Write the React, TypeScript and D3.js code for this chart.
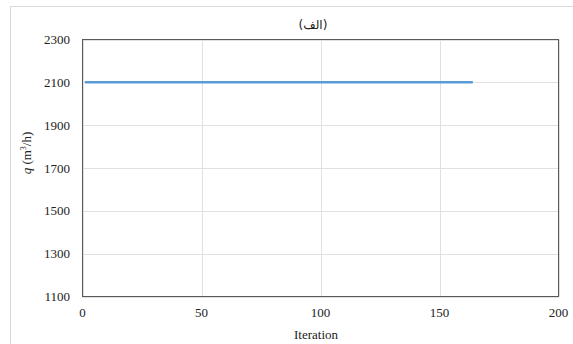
import React from "react";
import * as d3 from "d3";

// Flow rate per iteration (flat run from iteration 1 to 164)
const iterations: number[] = [1, 164];
const flowRate: number[] = [2100, 2100];

const xTicks: number[] = [0, 50, 100, 150, 200];
const yTicks: number[] = [1100, 1300, 1500, 1700, 1900, 2100, 2300];

const title = "(الف)";
const xTitle = "Iteration";

const W = 573;
const H = 344;
const plot = { left: 82.5, right: 558.5, top: 39.5, bottom: 296.5 };
const font = "'Times New Roman', 'Liberation Serif', 'DejaVu Serif', serif";

export default function App() {
  const x = d3.scaleLinear().domain([0, 200]).range([plot.left, plot.right]);
  const y = d3.scaleLinear().domain([1100, 2300]).range([plot.bottom, plot.top]);

  const points = iterations.map((it, i) => [it, flowRate[i]] as [number, number]);
  const line = d3
    .line<[number, number]>()
    .x((d) => x(d[0]))
    .y((d) => y(d[1]))(points);

  return (
    <svg
      width={W}
      height={H}
      style={{ position: "absolute", left: 0, top: 0, background: "#fff" }}
      fontFamily={font}
    >
      {/* chart area border */}
      <rect x={10.5} y={6.5} width={W + 20} height={H + 20} fill="#fff" stroke="#d9d9d9" />

      {/* title */}
      <text x={313} y={29} textAnchor="middle" fontSize={12} fill="#222" fontFamily="'DejaVu Sans', 'Noto Sans', sans-serif">
        {title}
      </text>

      {/* gridlines */}
      {yTicks.map((t) => (
        <line key={"gy" + t} x1={plot.left} x2={plot.right} y1={Math.round(y(t)) + 0.5} y2={Math.round(y(t)) + 0.5} stroke="#e0e0e0" />
      ))}
      {xTicks.map((t) => (
        <line key={"gx" + t} x1={Math.round(x(t)) + 0.5} x2={Math.round(x(t)) + 0.5} y1={plot.top} y2={plot.bottom} stroke="#e0e0e0" />
      ))}

      {/* plot frame */}
      <rect
        x={plot.left}
        y={plot.top}
        width={plot.right - plot.left}
        height={plot.bottom - plot.top}
        fill="none"
        stroke="#595959"
      />

      {/* series */}
      <path d={line ?? ""} fill="none" stroke="#5b9bd5" strokeWidth={2.5} />

      {/* y tick labels */}
      {yTicks.map((t) => (
        <text key={"ty" + t} x={70} y={y(t) + 4.5} textAnchor="end" fontSize={13} fill="#222">
          {t}
        </text>
      ))}

      {/* x tick labels */}
      {xTicks.map((t) => (
        <text key={"tx" + t} x={x(t)} y={317} textAnchor="middle" fontSize={13} fill="#222">
          {t}
        </text>
      ))}

      {/* axis titles */}
      <text x={316} y={339} textAnchor="middle" fontSize={13} fill="#222">
        {xTitle}
      </text>
      <text
        transform={`translate(31, 153) rotate(-90)`}
        textAnchor="middle"
        fontSize={13}
        fill="#222"
      >
        <tspan fontStyle="italic">q</tspan>
        <tspan> (m</tspan>
        <tspan fontSize={8} dy={-5}>3</tspan>
        <tspan dy={5}>/h)</tspan>
      </text>
    </svg>
  );
}
